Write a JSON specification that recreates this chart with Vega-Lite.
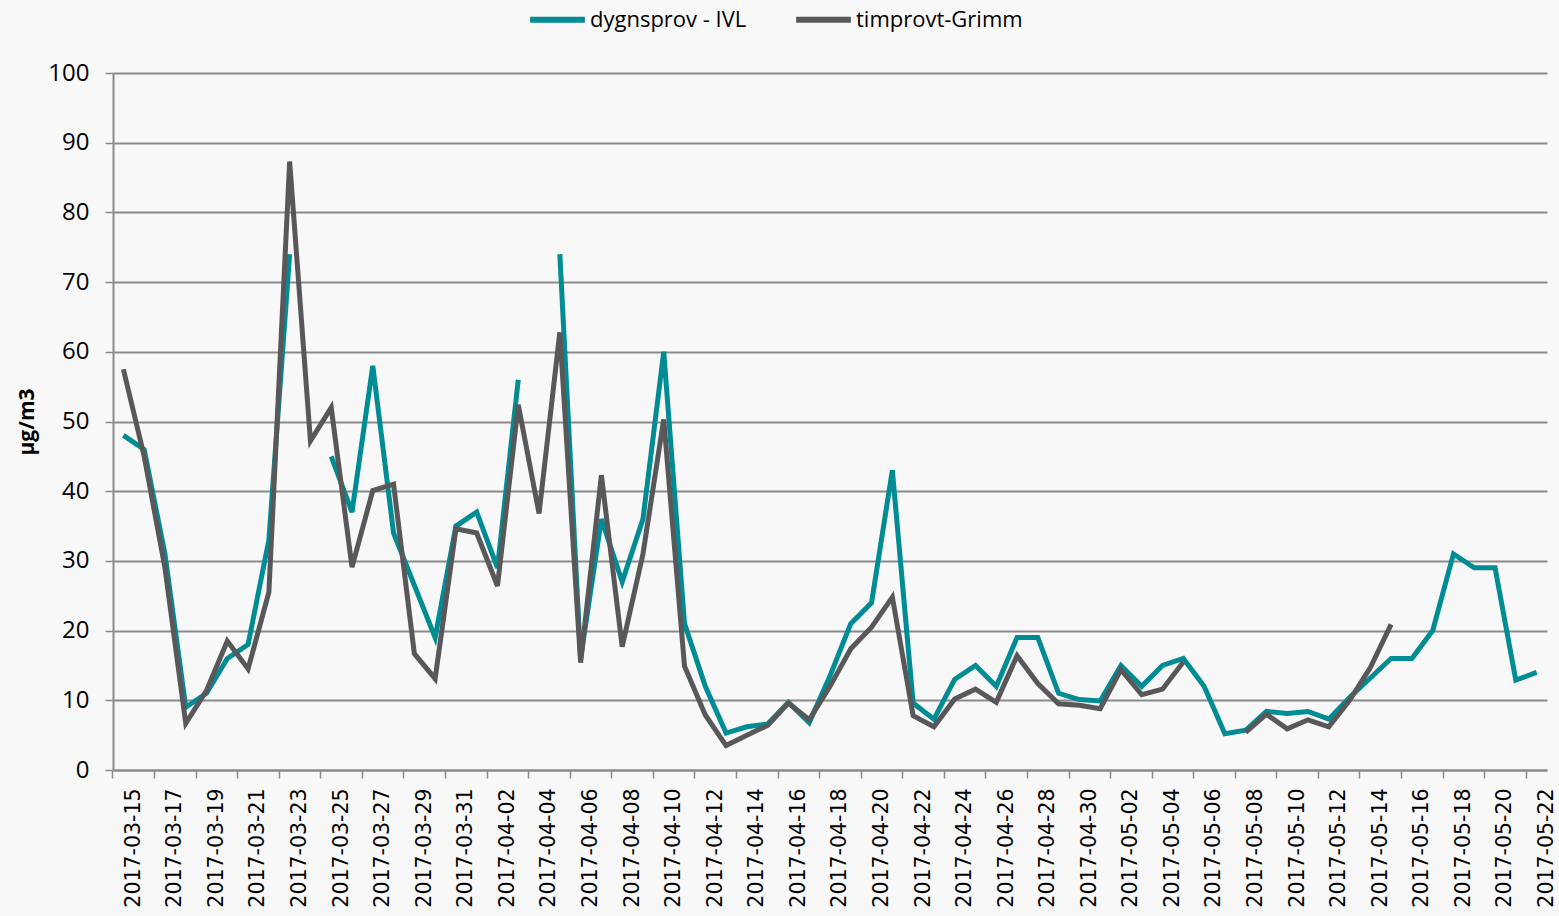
{
  "$schema": "https://vega.github.io/schema/vega-lite/v6.json",
  "width": 1434,
  "height": 697,
  "autosize": {"type": "none"},
  "padding": {"left": 113, "top": 73, "right": 12, "bottom": 146},
  "background": "#f8f8f8",
  "config": {"view": {"stroke": null}, "font": "Open Sans"},
  "data": {"values": [
    {"date": "2017-03-15", "series": "dygnsprov - IVL", "value": 48},
    {"date": "2017-03-16", "series": "dygnsprov - IVL", "value": 46},
    {"date": "2017-03-17", "series": "dygnsprov - IVL", "value": 31},
    {"date": "2017-03-18", "series": "dygnsprov - IVL", "value": 9},
    {"date": "2017-03-19", "series": "dygnsprov - IVL", "value": 11},
    {"date": "2017-03-20", "series": "dygnsprov - IVL", "value": 16},
    {"date": "2017-03-21", "series": "dygnsprov - IVL", "value": 18},
    {"date": "2017-03-22", "series": "dygnsprov - IVL", "value": 33},
    {"date": "2017-03-23", "series": "dygnsprov - IVL", "value": 74},
    {"date": "2017-03-24", "series": "dygnsprov - IVL", "value": null},
    {"date": "2017-03-25", "series": "dygnsprov - IVL", "value": 45},
    {"date": "2017-03-26", "series": "dygnsprov - IVL", "value": 37},
    {"date": "2017-03-27", "series": "dygnsprov - IVL", "value": 58},
    {"date": "2017-03-28", "series": "dygnsprov - IVL", "value": 34},
    {"date": "2017-03-29", "series": "dygnsprov - IVL", "value": 26.5},
    {"date": "2017-03-30", "series": "dygnsprov - IVL", "value": 19},
    {"date": "2017-03-31", "series": "dygnsprov - IVL", "value": 35},
    {"date": "2017-04-01", "series": "dygnsprov - IVL", "value": 37},
    {"date": "2017-04-02", "series": "dygnsprov - IVL", "value": 29},
    {"date": "2017-04-03", "series": "dygnsprov - IVL", "value": 56},
    {"date": "2017-04-04", "series": "dygnsprov - IVL", "value": null},
    {"date": "2017-04-05", "series": "dygnsprov - IVL", "value": 74},
    {"date": "2017-04-06", "series": "dygnsprov - IVL", "value": 16},
    {"date": "2017-04-07", "series": "dygnsprov - IVL", "value": 36},
    {"date": "2017-04-08", "series": "dygnsprov - IVL", "value": 27},
    {"date": "2017-04-09", "series": "dygnsprov - IVL", "value": 36},
    {"date": "2017-04-10", "series": "dygnsprov - IVL", "value": 60},
    {"date": "2017-04-11", "series": "dygnsprov - IVL", "value": 21},
    {"date": "2017-04-12", "series": "dygnsprov - IVL", "value": 12},
    {"date": "2017-04-13", "series": "dygnsprov - IVL", "value": 5.3},
    {"date": "2017-04-14", "series": "dygnsprov - IVL", "value": 6.2},
    {"date": "2017-04-15", "series": "dygnsprov - IVL", "value": 6.6},
    {"date": "2017-04-16", "series": "dygnsprov - IVL", "value": 9.7},
    {"date": "2017-04-17", "series": "dygnsprov - IVL", "value": 6.8},
    {"date": "2017-04-18", "series": "dygnsprov - IVL", "value": 13.5},
    {"date": "2017-04-19", "series": "dygnsprov - IVL", "value": 21},
    {"date": "2017-04-20", "series": "dygnsprov - IVL", "value": 24},
    {"date": "2017-04-21", "series": "dygnsprov - IVL", "value": 43},
    {"date": "2017-04-22", "series": "dygnsprov - IVL", "value": 9.6},
    {"date": "2017-04-23", "series": "dygnsprov - IVL", "value": 7.3},
    {"date": "2017-04-24", "series": "dygnsprov - IVL", "value": 13},
    {"date": "2017-04-25", "series": "dygnsprov - IVL", "value": 15},
    {"date": "2017-04-26", "series": "dygnsprov - IVL", "value": 12},
    {"date": "2017-04-27", "series": "dygnsprov - IVL", "value": 19},
    {"date": "2017-04-28", "series": "dygnsprov - IVL", "value": 19},
    {"date": "2017-04-29", "series": "dygnsprov - IVL", "value": 11},
    {"date": "2017-04-30", "series": "dygnsprov - IVL", "value": 10.1},
    {"date": "2017-05-01", "series": "dygnsprov - IVL", "value": 9.9},
    {"date": "2017-05-02", "series": "dygnsprov - IVL", "value": 15},
    {"date": "2017-05-03", "series": "dygnsprov - IVL", "value": 12},
    {"date": "2017-05-04", "series": "dygnsprov - IVL", "value": 15},
    {"date": "2017-05-05", "series": "dygnsprov - IVL", "value": 16},
    {"date": "2017-05-06", "series": "dygnsprov - IVL", "value": 12},
    {"date": "2017-05-07", "series": "dygnsprov - IVL", "value": 5.2},
    {"date": "2017-05-08", "series": "dygnsprov - IVL", "value": 5.7},
    {"date": "2017-05-09", "series": "dygnsprov - IVL", "value": 8.4},
    {"date": "2017-05-10", "series": "dygnsprov - IVL", "value": 8.1},
    {"date": "2017-05-11", "series": "dygnsprov - IVL", "value": 8.4},
    {"date": "2017-05-12", "series": "dygnsprov - IVL", "value": 7.3},
    {"date": "2017-05-13", "series": "dygnsprov - IVL", "value": 10.4},
    {"date": "2017-05-14", "series": "dygnsprov - IVL", "value": 13.2},
    {"date": "2017-05-15", "series": "dygnsprov - IVL", "value": 16},
    {"date": "2017-05-16", "series": "dygnsprov - IVL", "value": 16},
    {"date": "2017-05-17", "series": "dygnsprov - IVL", "value": 20},
    {"date": "2017-05-18", "series": "dygnsprov - IVL", "value": 31},
    {"date": "2017-05-19", "series": "dygnsprov - IVL", "value": 29},
    {"date": "2017-05-20", "series": "dygnsprov - IVL", "value": 29},
    {"date": "2017-05-21", "series": "dygnsprov - IVL", "value": 12.9},
    {"date": "2017-05-22", "series": "dygnsprov - IVL", "value": 14},
    {"date": "2017-03-15", "series": "timprovt-Grimm", "value": 57.5},
    {"date": "2017-03-16", "series": "timprovt-Grimm", "value": 45},
    {"date": "2017-03-17", "series": "timprovt-Grimm", "value": 29},
    {"date": "2017-03-18", "series": "timprovt-Grimm", "value": 6.7},
    {"date": "2017-03-19", "series": "timprovt-Grimm", "value": 11.4},
    {"date": "2017-03-20", "series": "timprovt-Grimm", "value": 18.5},
    {"date": "2017-03-21", "series": "timprovt-Grimm", "value": 14.5},
    {"date": "2017-03-22", "series": "timprovt-Grimm", "value": 25.5},
    {"date": "2017-03-23", "series": "timprovt-Grimm", "value": 87.3},
    {"date": "2017-03-24", "series": "timprovt-Grimm", "value": 47.2},
    {"date": "2017-03-25", "series": "timprovt-Grimm", "value": 52},
    {"date": "2017-03-26", "series": "timprovt-Grimm", "value": 29.1},
    {"date": "2017-03-27", "series": "timprovt-Grimm", "value": 40.1},
    {"date": "2017-03-28", "series": "timprovt-Grimm", "value": 41},
    {"date": "2017-03-29", "series": "timprovt-Grimm", "value": 16.7},
    {"date": "2017-03-30", "series": "timprovt-Grimm", "value": 13.1},
    {"date": "2017-03-31", "series": "timprovt-Grimm", "value": 34.6},
    {"date": "2017-04-01", "series": "timprovt-Grimm", "value": 34},
    {"date": "2017-04-02", "series": "timprovt-Grimm", "value": 26.4},
    {"date": "2017-04-03", "series": "timprovt-Grimm", "value": 52.4},
    {"date": "2017-04-04", "series": "timprovt-Grimm", "value": 36.8},
    {"date": "2017-04-05", "series": "timprovt-Grimm", "value": 62.8},
    {"date": "2017-04-06", "series": "timprovt-Grimm", "value": 15.4},
    {"date": "2017-04-07", "series": "timprovt-Grimm", "value": 42.3},
    {"date": "2017-04-08", "series": "timprovt-Grimm", "value": 17.7},
    {"date": "2017-04-09", "series": "timprovt-Grimm", "value": 31},
    {"date": "2017-04-10", "series": "timprovt-Grimm", "value": 50.3},
    {"date": "2017-04-11", "series": "timprovt-Grimm", "value": 14.9},
    {"date": "2017-04-12", "series": "timprovt-Grimm", "value": 7.9},
    {"date": "2017-04-13", "series": "timprovt-Grimm", "value": 3.5},
    {"date": "2017-04-14", "series": "timprovt-Grimm", "value": 5},
    {"date": "2017-04-15", "series": "timprovt-Grimm", "value": 6.4},
    {"date": "2017-04-16", "series": "timprovt-Grimm", "value": 9.6},
    {"date": "2017-04-17", "series": "timprovt-Grimm", "value": 7.2},
    {"date": "2017-04-18", "series": "timprovt-Grimm", "value": 12},
    {"date": "2017-04-19", "series": "timprovt-Grimm", "value": 17.4},
    {"date": "2017-04-20", "series": "timprovt-Grimm", "value": 20.5},
    {"date": "2017-04-21", "series": "timprovt-Grimm", "value": 24.8},
    {"date": "2017-04-22", "series": "timprovt-Grimm", "value": 7.8},
    {"date": "2017-04-23", "series": "timprovt-Grimm", "value": 6.2},
    {"date": "2017-04-24", "series": "timprovt-Grimm", "value": 10.2},
    {"date": "2017-04-25", "series": "timprovt-Grimm", "value": 11.6},
    {"date": "2017-04-26", "series": "timprovt-Grimm", "value": 9.7},
    {"date": "2017-04-27", "series": "timprovt-Grimm", "value": 16.4},
    {"date": "2017-04-28", "series": "timprovt-Grimm", "value": 12.4},
    {"date": "2017-04-29", "series": "timprovt-Grimm", "value": 9.5},
    {"date": "2017-04-30", "series": "timprovt-Grimm", "value": 9.3},
    {"date": "2017-05-01", "series": "timprovt-Grimm", "value": 8.8},
    {"date": "2017-05-02", "series": "timprovt-Grimm", "value": 14.4},
    {"date": "2017-05-03", "series": "timprovt-Grimm", "value": 10.8},
    {"date": "2017-05-04", "series": "timprovt-Grimm", "value": 11.6},
    {"date": "2017-05-05", "series": "timprovt-Grimm", "value": 15.5},
    {"date": "2017-05-06", "series": "timprovt-Grimm", "value": null},
    {"date": "2017-05-07", "series": "timprovt-Grimm", "value": null},
    {"date": "2017-05-08", "series": "timprovt-Grimm", "value": 5.4},
    {"date": "2017-05-09", "series": "timprovt-Grimm", "value": 8},
    {"date": "2017-05-10", "series": "timprovt-Grimm", "value": 5.9},
    {"date": "2017-05-11", "series": "timprovt-Grimm", "value": 7.2},
    {"date": "2017-05-12", "series": "timprovt-Grimm", "value": 6.2},
    {"date": "2017-05-13", "series": "timprovt-Grimm", "value": 10},
    {"date": "2017-05-14", "series": "timprovt-Grimm", "value": 14.7},
    {"date": "2017-05-15", "series": "timprovt-Grimm", "value": 20.9}
  ]},
  "mark": {"type": "line", "strokeWidth": 5, "invalid": "break-paths-show-domains"},
  "encoding": {
    "x": {
      "field": "date",
      "type": "ordinal",
      "sort": "ascending",
      "scale": {"type": "band", "paddingInner": 0, "paddingOuter": 0},
      "axis": {
        "title": null,
        "grid": false,
        "labelExpr": "indexof(['2017-03-15','2017-03-17','2017-03-19','2017-03-21','2017-03-23','2017-03-25','2017-03-27','2017-03-29','2017-03-31','2017-04-02','2017-04-04','2017-04-06','2017-04-08','2017-04-10','2017-04-12','2017-04-14','2017-04-16','2017-04-18','2017-04-20','2017-04-22','2017-04-24','2017-04-26','2017-04-28','2017-04-30','2017-05-02','2017-05-04','2017-05-06','2017-05-08','2017-05-10','2017-05-12','2017-05-14','2017-05-16','2017-05-18','2017-05-20','2017-05-22'], datum.value) >= 0 ? datum.value : ''",
        "tickOpacity": {"condition": {"test": "indexof(['2017-03-15','2017-03-17','2017-03-19','2017-03-21','2017-03-23','2017-03-25','2017-03-27','2017-03-29','2017-03-31','2017-04-02','2017-04-04','2017-04-06','2017-04-08','2017-04-10','2017-04-12','2017-04-14','2017-04-16','2017-04-18','2017-04-20','2017-04-22','2017-04-24','2017-04-26','2017-04-28','2017-04-30','2017-05-02','2017-05-04','2017-05-06','2017-05-08','2017-05-10','2017-05-12','2017-05-14','2017-05-16','2017-05-18','2017-05-20','2017-05-22'], datum.value) >= 0", "value": 1}, "value": 0},
        "bandPosition": 0,
        "labelOffset": 10.4,
        "labelAngle": -90,
        "labelOverlap": false,
        "labelBound": false,
        "labelFlush": false,
        "labelFont": "DejaVu Sans",
        "labelFontSize": 20.5,
        "labelColor": "#000000",
        "labelPadding": 10,
        "tickSize": 8,
        "tickWidth": 1.5,
        "tickColor": "#8a8a8a",
        "domainColor": "#8a8a8a",
        "domainWidth": 2
      }
    },
    "y": {
      "field": "value",
      "type": "quantitative",
      "scale": {"domain": [0, 100], "nice": false},
      "axis": {
        "title": "µg/m3",
        "titleFont": "Open Sans",
        "titleFontSize": 21,
        "titleFontWeight": "bold",
        "titleColor": "#000000",
        "titlePadding": 10,
        "values": [0, 10, 20, 30, 40, 50, 60, 70, 80, 90, 100],
        "labelFont": "Open Sans",
        "labelFontSize": 24,
        "labelColor": "#000000",
        "labelPadding": 16,
        "tickSize": 8,
        "tickWidth": 1.5,
        "tickColor": "#8a8a8a",
        "domainColor": "#8a8a8a",
        "domainWidth": 2,
        "grid": true,
        "gridColor": "#8a8a8a",
        "gridWidth": 2
      }
    },
    "color": {
      "field": "series",
      "type": "nominal",
      "scale": {"domain": ["dygnsprov - IVL", "timprovt-Grimm"], "range": ["#008C95", "#58585B"]},
      "legend": {
        "title": null,
        "orient": "none",
        "direction": "horizontal",
        "legendX": 414,
        "legendY": -84,
        "padding": 0,
        "symbolType": "stroke",
        "symbolSize": 3000,
        "symbolStrokeWidth": 6,
        "labelFont": "Open Sans",
        "labelFontSize": 22,
        "labelColor": "#000000",
        "labelLimit": 400,
        "labelOffset": 2,
        "columnPadding": 37
      }
    }
  }
}
